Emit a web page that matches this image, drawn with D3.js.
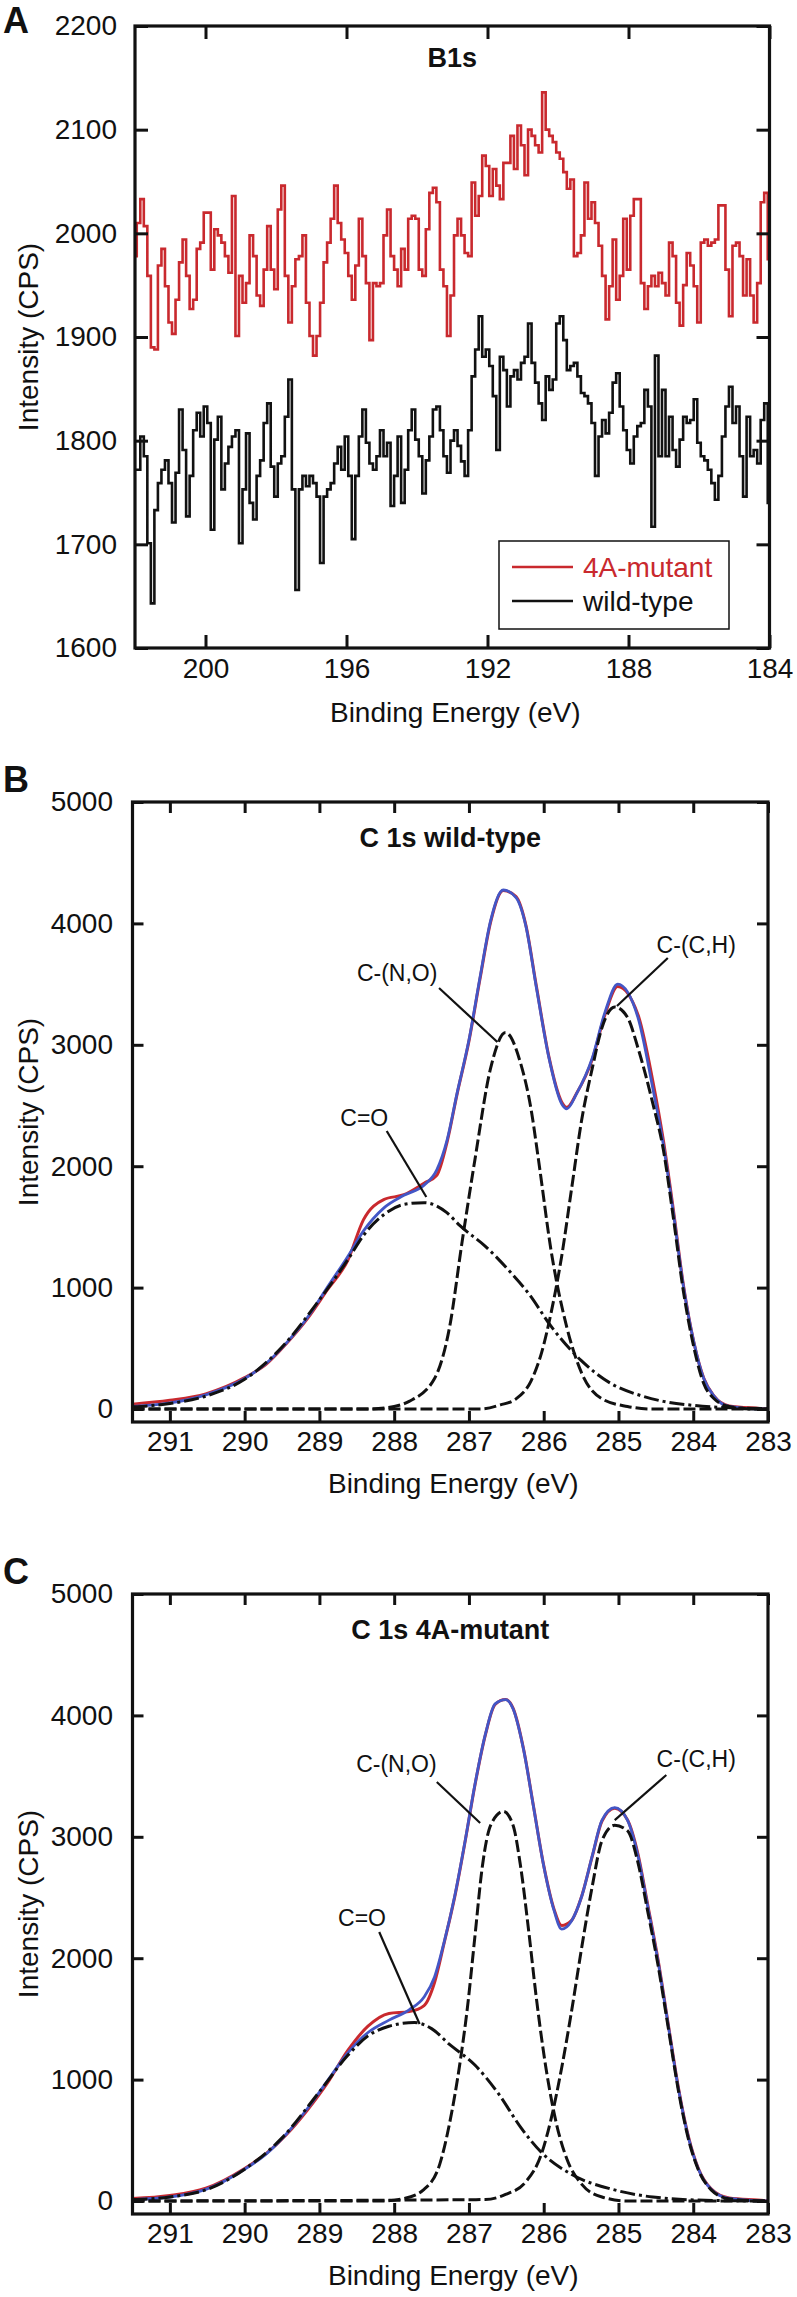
<!DOCTYPE html>
<html><head><meta charset="utf-8">
<script src="https://cdn.jsdelivr.net/npm/d3@7"></script>
<style>
html,body{margin:0;padding:0;background:#fff;}
svg text{font-family:"Liberation Sans",Arial,Helvetica,sans-serif;}
</style></head>
<body><svg id="chart" width="797" height="2297"></svg>
<script>
// ---------------- Panel A data (B1s) ----------------
const aTicksX = [200, 196, 192, 188, 184];
const aTicksY = [1600, 1700, 1800, 1900, 2000, 2100, 2200];
const aEnergy = d3.range(0, 181).map(i => +(202 - i * 0.1).toFixed(1));
const aMutant = [
1978,2010,2033,2007,1959,1890,1888,1969,1985,1949,1914,1903,1936,1972,1994,1959,1927,1936,1985,1991,
2020,2020,1965,2004,1998,1991,1978,1962,2036,1901,1959,1933,1952,1998,1978,1940,1930,1965,2007,1965,
1946,2023,2046,1959,1914,1949,1975,1978,1998,1933,1901,1882,1901,1933,1972,1991,2014,2046,2010,1994,
1981,1959,1936,1969,2014,1978,1952,1897,1952,1949,1952,1998,2023,1978,1965,1949,1985,1965,2014,2017,
2014,1965,1959,2004,2039,2044,2030,1965,1949,1901,1940,1998,2014,1998,1981,1978,2049,2017,2036,2075,
2065,2036,2062,2046,2033,2068,2068,2094,2062,2104,2085,2056,2100,2094,2085,2078,2136,2100,2094,2088,
2078,2072,2059,2043,2052,1978,1981,1998,2049,2014,2030,2010,1988,1959,1917,1949,1994,1936,1959,2014,
1965,2017,2033,2033,1952,1927,1949,1959,1949,1962,1952,1940,1991,1978,1933,1911,1950,1981,1969,1949,
1914,1991,1994,1988,1991,1994,2027,2027,1965,1920,1988,1991,1978,1940,1975,1940,1914,1952,2030,2039,
1975];
const aWild = [
1772,1772,1804,1785,1701,1643,1733,1759,1772,1781,1759,1721,1769,1830,1791,1727,1766,1810,1827,1804,
1833,1817,1714,1801,1823,1753,1778,1794,1804,1810,1701,1753,1807,1740,1724,1766,1781,1817,1836,1775,
1746,1778,1785,1823,1859,1753,1656,1753,1766,1756,1766,1759,1746,1682,1746,1753,1759,1778,1794,1772,
1804,1766,1705,1766,1804,1830,1798,1778,1772,1785,1810,1785,1798,1737,1766,1804,1740,1772,1810,1830,
1801,1785,1749,1781,1804,1830,1833,1810,1785,1769,1800,1810,1795,1780,1766,1810,1862,1888,1920,1881,
1888,1872,1843,1791,1881,1868,1833,1862,1868,1859,1875,1881,1913,1875,1856,1836,1820,1862,1849,1859,
1913,1920,1897,1868,1872,1875,1862,1846,1843,1836,1817,1766,1804,1820,1807,1827,1856,1865,1833,1810,
1791,1778,1804,1814,1817,1849,1833,1717,1882,1785,1849,1785,1823,1791,1775,1801,1823,1817,1820,1840,
1798,1785,1781,1772,1759,1743,1766,1804,1833,1852,1817,1833,1785,1746,1823,1785,1791,1778,1820,1836,
1740];
const aSeriesNames = ["4A-mutant", "wild-type"];

// ---------------- Panels B / C shared ticks ----------------
const cTicksX = [291, 290, 289, 288, 287, 286, 285, 284, 283];
const cTicksY = [0, 1000, 2000, 3000, 4000, 5000];

// ---------------- Panel B data (C 1s wild-type) ----------------
const bEnvE = [291.5,291.0,290.52,290.0,289.71,289.44,289.16,288.89,288.62,288.41,288.14,287.87,287.6,287.43,287.29,287.16,287.0,286.85,286.71,286.54,286.37,286.24,286.1,285.93,285.76,285.69,285.56,285.35,285.18,285.01,284.74,284.54,284.4,284.27,284.13,283.99,283.86,283.72,283.52,283.11,283.0];
const bFit  = [21,50,117,251,377,545,754,1006,1257,1467,1655,1760,1844,1970,2221,2598,3039,3562,4023,4275,4212,3982,3479,2892,2515,2473,2598,2892,3269,3500,3227,2640,2179,1635,1006,545,251,105,21,0,0];
const bData = [40,72,125,258,370,540,745,985,1225,1560,1725,1765,1860,1925,2205,2590,3030,3550,4010,4270,4220,3990,3490,2900,2530,2485,2600,2880,3250,3480,3250,2700,2215,1660,1015,545,255,105,25,5,0];
const bCOE = [291.5,291.0,290.5,290.0,289.5,289.0,288.62,288.41,288.14,287.87,287.6,287.3,287.12,286.78,286.45,286.2,285.9,285.5,285.1,284.7,284.4,284.0,283.5,283.0];
const bCO  = [18,45,110,245,510,900,1230,1430,1600,1685,1700,1620,1510,1340,1130,950,680,400,210,110,63,30,10,3];
const bNOE = [291.5,288.35,288.0,287.8,287.46,287.26,287.09,286.92,286.71,286.51,286.31,286.17,286.07,285.9,285.69,285.49,285.22,284.88,284.54,283.0];
const bNO  = [0,0,21,63,251,671,1383,2054,2808,3101,2850,2473,2054,1300,671,293,84,21,0,0];
const bCHE = [291.5,286.85,286.58,286.37,286.17,286.03,285.9,285.76,285.63,285.49,285.35,285.22,285.05,284.88,284.74,284.54,284.4,284.27,284.13,283.99,283.86,283.72,283.52,283.18,283.0];
const bCH  = [0,0,34,84,230,461,796,1257,1802,2389,2808,3143,3311,3227,2976,2515,2137,1593,964,503,210,84,21,0,0];
const bLabels = [
  {text:"C-(N,O)", lx:287.96, ly:3591, x1:287.4,  y1:3468, x2:286.62, y2:3023},
  {text:"C-(C,H)", lx:283.96, ly:3822, x1:284.34, y1:3715, x2:285.02, y2:3320},
  {text:"C=O",     lx:288.4,  ly:2397, x1:288.1,  y1:2290, x2:287.57, y2:1746}
];

// ---------------- Panel C data (C 1s 4A-mutant) ----------------
const cEnvE = [291.5,291.0,290.52,290.0,289.71,289.44,289.16,288.89,288.62,288.35,288.07,287.8,287.6,287.46,287.33,287.19,287.05,286.92,286.78,286.65,286.51,286.41,286.27,286.14,286.0,285.86,285.76,285.63,285.49,285.35,285.22,285.05,284.88,284.74,284.61,284.47,284.33,284.2,284.06,283.93,283.76,283.52,283.04,283.0];
const cFit  = [12,33,96,262,388,554,762,992,1220,1388,1490,1575,1680,1845,2137,2512,2970,3430,3845,4095,4130,4055,3720,3260,2760,2390,2240,2305,2512,2845,3137,3240,3137,2845,2430,1970,1430,930,512,262,96,21,0,0];
const cData = [20,45,105,268,392,548,750,975,1240,1440,1545,1560,1610,1800,2130,2505,2965,3425,3840,4090,4130,4060,3725,3265,2765,2400,2270,2310,2515,2840,3130,3235,3140,2860,2445,1985,1440,940,520,265,100,25,3,0];
const cCOE = [291.5,291.0,290.5,290.0,289.5,289.0,288.62,288.35,288.07,287.73,287.5,287.26,286.92,286.6,286.3,286.03,285.63,285.08,284.54,283.72,283.0];
const cCO  = [12,33,96,262,520,900,1200,1360,1440,1470,1420,1290,1120,880,600,400,220,96,33,4,0];
const cNOE = [291.5,288.2,287.87,287.6,287.39,287.26,287.12,287.02,286.92,286.82,286.71,286.54,286.41,286.31,286.2,286.1,285.97,285.83,285.69,285.49,285.22,284.88,283.0];
const cNO  = [0,0,21,96,304,637,1137,1595,2180,2760,3095,3210,3095,2760,2220,1680,1096,637,346,137,33,0,0];
const cCHE = [291.5,286.78,286.51,286.24,286.03,285.9,285.76,285.63,285.49,285.35,285.22,285.05,284.88,284.74,284.61,284.47,284.33,284.2,284.06,283.93,283.76,283.52,283.04,283.0];
const cCH  = [0,12,54,158,388,679,1096,1554,2095,2595,2970,3095,3050,2790,2390,1940,1410,915,500,255,92,18,0,0];
const cLabels = [
  {text:"C-(N,O)", lx:287.97, ly:3600, x1:287.43, y1:3451, x2:286.85, y2:3114},
  {text:"C-(C,H)", lx:283.96, ly:3641, x1:284.36, y1:3509, x2:285.05, y2:3138},
  {text:"C=O",     lx:288.43, ly:2331, x1:288.2,  y1:2216, x2:287.66, y2:1458}
];

// ---------------- drawing ----------------
const RED = "#c9292e", BLUE = "#4356c6", BLACK = "#111";
const FONT = 28;
const svg = d3.select("#chart");
svg.append("rect").attr("width", 797).attr("height", 2297).attr("fill", "#fff");

function zip(xs, ys) { return xs.map((x, i) => [x, ys[i]]); }

function drawFrame(g, x, y, ticksX, ticksY, tick, padX, padY, box) {
  const ax = d3.axisBottom(x).tickValues(ticksX).tickSize(-tick).tickPadding(padX).tickFormat(d3.format("d"));
  const axT = d3.axisTop(x).tickValues(ticksX).tickSize(-tick).tickFormat("");
  const ay = d3.axisLeft(y).tickValues(ticksY).tickSize(-tick).tickPadding(padY).tickFormat(d3.format("d"));
  const ayR = d3.axisRight(y).tickValues(ticksY).tickSize(-tick).tickFormat("");
  const gx = g.append("g").attr("transform", `translate(0,${box.bottom})`).call(ax);
  g.append("g").attr("transform", `translate(0,${box.top})`).call(axT);
  const gy = g.append("g").attr("transform", `translate(${box.left},0)`).call(ay);
  g.append("g").attr("transform", `translate(${box.right},0)`).call(ayR);
  g.selectAll(".domain").remove();
  g.selectAll(".tick line").attr("stroke", BLACK).attr("stroke-width", 3);
  g.selectAll(".tick text").attr("fill", BLACK).attr("font-size", FONT).style("font-family", '"Liberation Sans",Arial,sans-serif');
  g.append("rect").attr("x", box.left).attr("y", box.top)
    .attr("width", box.right - box.left).attr("height", box.bottom - box.top)
    .attr("fill", "none").attr("stroke", BLACK).attr("stroke-width", 3.2);
}

function titles(g, box, letter, letterY, title, titleY, xTitleY) {
  const cx = (box.left + box.right) / 2;
  g.append("text").attr("x", 3).attr("y", letterY).attr("font-size", 36).attr("font-weight", "bold").attr("fill", BLACK).text(letter);
  g.append("text").attr("x", cx).attr("y", titleY).attr("text-anchor", "middle").attr("font-size", 27).attr("font-weight", "bold").attr("fill", BLACK).text(title);
  g.append("text").attr("x", cx + 3).attr("y", xTitleY).attr("text-anchor", "middle").attr("font-size", FONT).attr("fill", BLACK).text("Binding Energy (eV)");
  g.append("text").attr("transform", `translate(38,${(box.top + box.bottom) / 2}) rotate(-90)`)
    .attr("text-anchor", "middle").attr("font-size", FONT).attr("fill", BLACK).text("Intensity (CPS)");
}

// ----- Panel A -----
(function () {
  const box = {left: 135, right: 769.5, top: 26, bottom: 648};
  const x = d3.scaleLinear().domain([202, 184]).range([box.left, box.right]);
  const y = d3.scaleLinear().domain([1600, 2200]).range([box.bottom, box.top]);
  const g = svg.append("g");
  const line = d3.line().x(d => x(d[0])).y(d => y(d[1])).curve(d3.curveStep);
  g.append("path").datum(zip(aEnergy, aMutant)).attr("d", line).attr("fill", "none").attr("stroke", RED).attr("stroke-width", 2.6).attr("stroke-linejoin", "miter");
  g.append("path").datum(zip(aEnergy, aWild)).attr("d", line).attr("fill", "none").attr("stroke", BLACK).attr("stroke-width", 2.6);
  drawFrame(g, x, y, aTicksX, aTicksY, 13, 10, 18, box);
  titles(g, box, "A", 33, "B1s", 67, 722);
  // legend
  const lg = g.append("g");
  lg.append("rect").attr("x", 499).attr("y", 541).attr("width", 230).attr("height", 88).attr("fill", "#fff").attr("stroke", BLACK).attr("stroke-width", 1.5);
  [RED, BLACK].forEach((c, i) => {
    const yy = 567 + i * 34;
    lg.append("line").attr("x1", 512).attr("x2", 573).attr("y1", yy).attr("y2", yy).attr("stroke", c).attr("stroke-width", 2.6);
    lg.append("text").attr("x", 583).attr("y", yy + 10).attr("font-size", FONT).attr("fill", c).text(aSeriesNames[i]);
  });
})();

// ----- Panels B and C -----
function drawC1s(offset, env, data, fit, co, coE, no, noE, ch, chE, labels, letter, title) {
  const box = {left: 132.5, right: 768, top: 802 + offset, bottom: 1422 + offset};
  const x = d3.scaleLinear().domain([291.5, 283]).range([box.left, box.right]);
  const y = d3.scaleLinear().domain([-107, 5000]).range([box.bottom, box.top]);
  const g = svg.append("g");
  const line = d3.line().x(d => x(d[0])).y(d => y(d[1])).curve(d3.curveMonotoneX);
  g.append("path").datum(zip(env, data)).attr("d", line).attr("fill", "none").attr("stroke", RED).attr("stroke-width", 3);
  g.append("path").datum(zip(env, fit)).attr("d", line).attr("fill", "none").attr("stroke", BLUE).attr("stroke-width", 2.8);
  g.append("path").datum(zip(coE, co)).attr("d", line).attr("fill", "none").attr("stroke", BLACK).attr("stroke-width", 3).attr("stroke-dasharray", "15,4,3,4");
  g.append("path").datum(zip(noE, no)).attr("d", line).attr("fill", "none").attr("stroke", BLACK).attr("stroke-width", 3).attr("stroke-dasharray", "12,4");
  g.append("path").datum(zip(chE, ch)).attr("d", line).attr("fill", "none").attr("stroke", BLACK).attr("stroke-width", 3).attr("stroke-dasharray", "12,4");
  labels.forEach(a => {
    g.append("line").attr("x1", x(a.x1)).attr("y1", y(a.y1)).attr("x2", x(a.x2)).attr("y2", y(a.y2)).attr("stroke", BLACK).attr("stroke-width", 2.2);
    g.append("text").attr("x", x(a.lx)).attr("y", y(a.ly)).attr("dy", "0.35em").attr("text-anchor", "middle").attr("font-size", 23).attr("fill", BLACK).text(a.text);
  });
  drawFrame(g, x, y, cTicksX, cTicksY, 11, 9, 19.5, box);
  titles(g, box, letter, 792 + offset, title, 847 + offset, 1493 + offset);
}
drawC1s(0, bEnvE, bData, bFit, bCO, bCOE, bNO, bNOE, bCH, bCHE, bLabels, "B", "C 1s wild-type");
drawC1s(792, cEnvE, cData, cFit, cCO, cCOE, cNO, cNOE, cCH, cCHE, cLabels, "C", "C 1s 4A-mutant");
</script></body></html>
